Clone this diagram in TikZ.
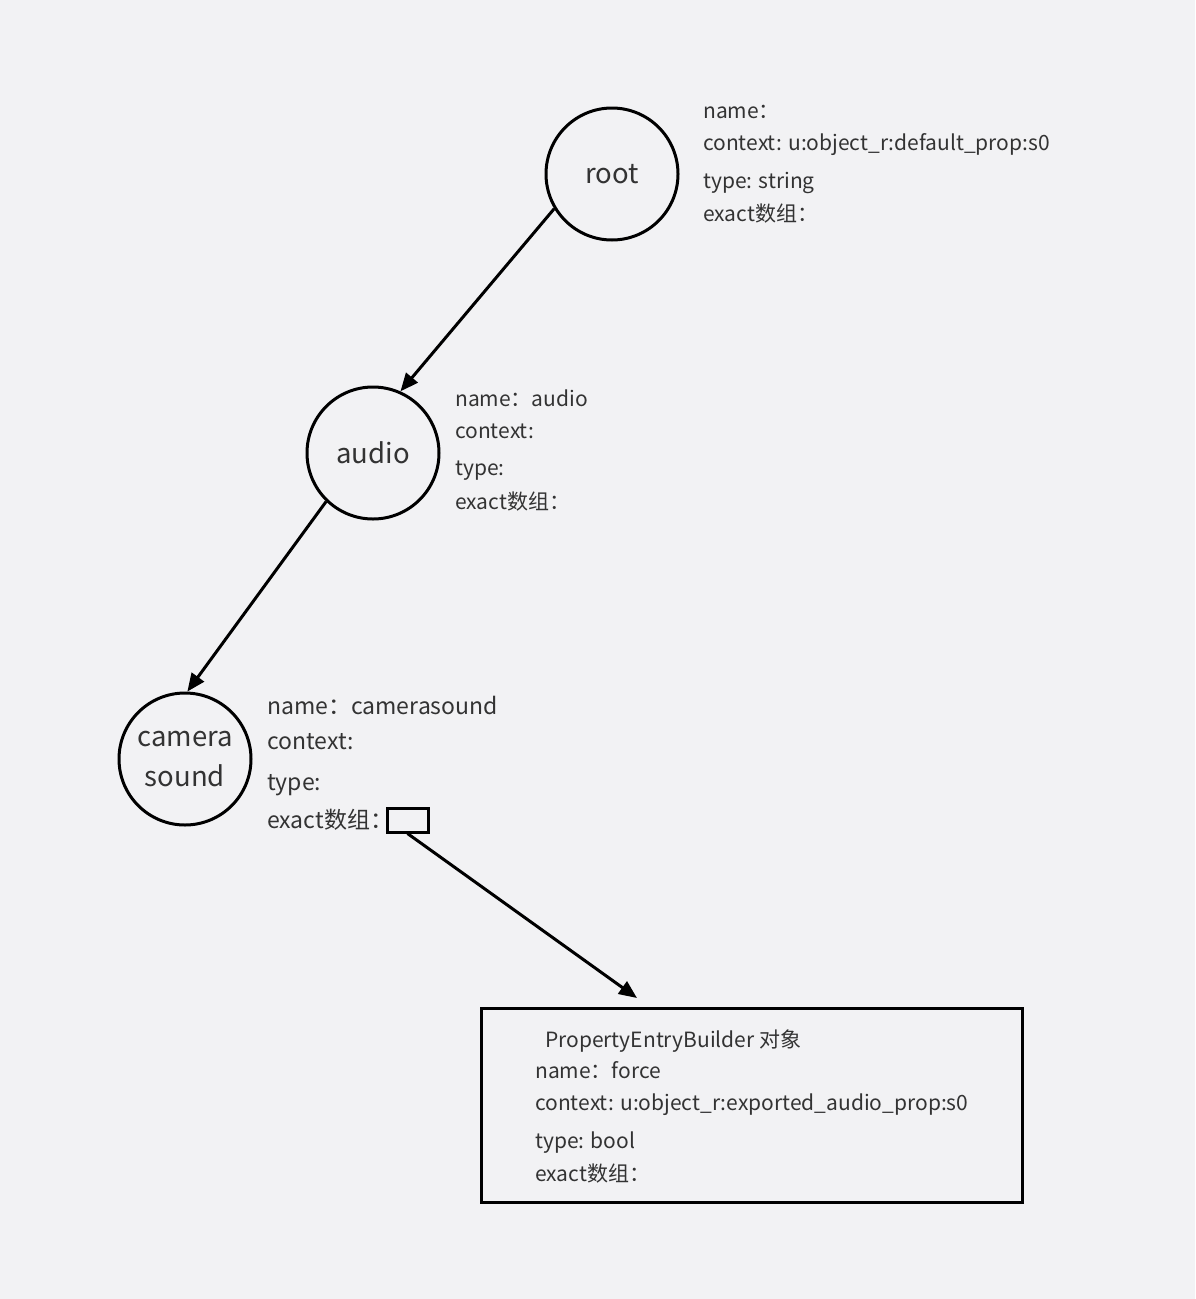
\documentclass[tikz,border=0pt]{standalone}
\usepackage{fontspec}
\setmainfont{Noto Sans CJK SC}
\usetikzlibrary{arrows.meta}
\definecolor{bg}{HTML}{F2F2F4}
\definecolor{txt}{HTML}{333333}
\tikzset{
  circ/.style={circle,draw=black,line width=3pt,minimum size=132pt,inner sep=0pt,text=txt,font=\fontsize{27.5}{40}\selectfont,align=center},
  lbl/.style={anchor=base west,inner sep=0pt,text=txt,font=\fontsize{21}{25}\selectfont},
  lblbig/.style={lbl,font=\fontsize{23}{27}\selectfont},
  conn/.style={line width=3pt,-{Triangle[length=18pt,width=15pt]}},
  boxed/.style={draw=black,line width=3pt,inner sep=0pt,fill=none}
}
\begin{document}
\begin{tikzpicture}[x=1pt,y=-1pt]
\fill[bg] (0,0) rectangle (1195,1299);
\useasboundingbox (0,0) rectangle (1195,1299);
% circles
\node[circ] (root) at (612,174) {root};
\node[circ] (audio) at (373,453) {audio};
\node[circ] (cam) at (185,759) {camera\\sound};
% labels root
\node[lbl] (r1) at (703,118) {name：};
\node[lbl] (r2) at (703,150) {context: u:object\_r:default\_prop:s0};
\node[lbl] (r3) at (703,188) {type: string};
\node[lbl] (r4) at (703,221) {exact数组：};
% labels audio
\node[lbl] (a1) at (455,406) {name：audio};
\node[lbl] (a2) at (455,438) {context:};
\node[lbl] (a3) at (455,475) {type:};
\node[lbl] (a4) at (455,509) {exact数组：};
% labels camera
\node[lblbig] (c1) at (267,714) {name：camerasound};
\node[lblbig] (c2) at (267,749) {context:};
\node[lblbig] (c3) at (267,790) {type:};
\node[lblbig] (c4) at (267,828) {exact数组：};
\node[boxed,minimum width=41pt,minimum height=24pt] (arr) at (407.5,820) {};
% object box
\node[boxed,minimum width=541pt,minimum height=194pt] (obj) at (751.5,1105) {};
\node[lbl] (o0) at (545,1047) {PropertyEntryBuilder 对象};
\node[lbl] (o1) at (535,1078) {name：force};
\node[lbl] (o2) at (535,1110) {context: u:object\_r:exported\_audio\_prop:s0};
\node[lbl] (o3) at (535,1148) {type: bool};
\node[lbl] (o4) at (535,1181) {exact数组：};
\coordinate (tip) at (637,998);
% connectors
\draw[conn] (root.211) -- (audio.66);
\draw[conn] (audio.226) -- (cam.88);
\draw[conn] (arr.south) -- (tip);
\end{tikzpicture}
\end{document}
